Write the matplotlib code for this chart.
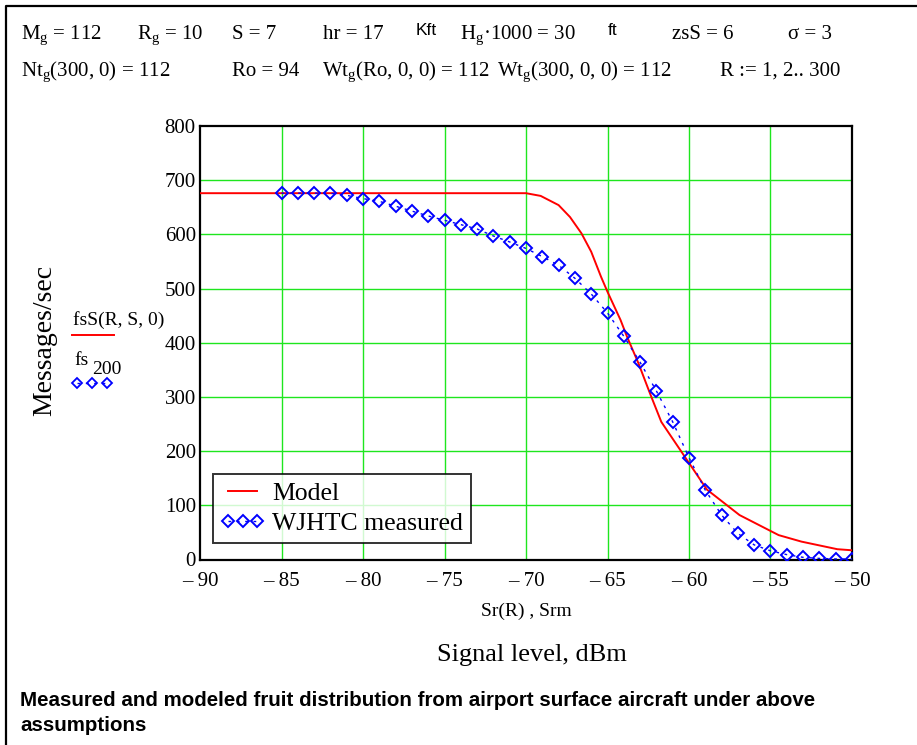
import numpy as np
import matplotlib.pyplot as plt
from matplotlib.lines import Line2D

plt.rcParams['font.family'] = 'Liberation Serif'
plt.rcParams['mathtext.fontset'] = 'custom'
plt.rcParams['mathtext.rm'] = 'Liberation Serif'
plt.rcParams['mathtext.it'] = 'Liberation Serif'

# model curve fsS(R, S, 0) vs signal level
model_dbm = [-90, -70, -69.1, -68.0, -67.3, -66.6, -66.0, -65.4, -65.0, -64.2,
             -63.8, -63.1, -62.4, -61.7, -58.9, -56.9, -54.5, -53.1, -50.9, -50]
model_rate = [676, 676, 671, 654, 632, 602, 568, 522, 494, 442,
              411, 362, 307, 254, 129, 82, 45, 33, 19, 17]

# WJHTC measured fruit rate, 1 dB steps
meas_dbm = list(range(-85, -49))
meas_rate = [676, 676, 676, 676, 672, 666, 661, 652, 643, 634,
             626, 618, 610, 597, 586, 574, 559, 543, 519, 490,
             455, 412, 364, 311, 254, 188, 128, 82, 48, 27,
             16, 9, 4, 2, 1, 1]

xticks = [-90, -85, -80, -75, -70, -65, -60, -55, -50]
yticks = [0, 100, 200, 300, 400, 500, 600, 700, 800]

W, H = 917, 745
fig = plt.figure(figsize=(W / 100, H / 100), dpi=100)
ax = fig.add_axes([200 / W, 1 - 559.5 / H, 652 / W, 433.5 / H])

grid_col = '#1ee61e'
for xv in xticks[1:-1]:
    ax.axvline(xv, color=grid_col, lw=1.0, zorder=1)
for yv in yticks[1:-1]:
    ax.axhline(yv, color=grid_col, lw=1.0, zorder=1)

meas_style = dict(color='#0000ff', lw=1.0, ls=(0, (2, 4)), marker='D', ms=6,
                  mfc='none', mec='#0000ff', mew=1.4)
ax.plot(model_dbm, model_rate, color='#ff0000', lw=1.4, zorder=3)
ax.plot(meas_dbm, meas_rate, zorder=4, **meas_style)

ax.set_xlim(-90, -50)
ax.set_ylim(0, 800)
ax.set_xticks(xticks)
ax.set_xticklabels(['\u2013 %d' % abs(v) for v in xticks])
ax.set_yticks(yticks)
ax.set_yticklabels([str(v) for v in yticks])
ax.tick_params(length=0, labelsize=15)
ax.tick_params(axis='x', pad=9)
ax.tick_params(axis='y', pad=3)
for s in ax.spines.values():
    s.set_linewidth(1.6)
    s.set_color('black')

leg_handles = [Line2D([], [], color='#ff0000', lw=1.4),
               Line2D([], [], **meas_style)]
leg = ax.legend(leg_handles, ['Model', 'WJHTC measured'], loc='lower left',
                bbox_to_anchor=(0.02, 0.038), fontsize=18.5, frameon=True,
                fancybox=False, handlelength=1.7, handletextpad=0.3,
                borderpad=0.3, labelspacing=0.3, numpoints=3,
                borderaxespad=0)
leg.get_frame().set_edgecolor('black')
leg.get_frame().set_linewidth(1.4)

def ft(x, y, s, **kw):
    fig.text(x / W, 1 - y / H, s, **kw)

# header definitions
hdr = dict(fontsize=15, va='baseline')
sub = r'$_{\mathrm{g}}$'
ft(21, 39, 'M' + sub + ' = 112', **hdr)
ft(137, 39, 'R' + sub + ' = 10', **hdr)
ft(232, 39, 'S = 7', **hdr)
ft(323, 39, 'hr = 17', **hdr)
ft(416, 35, 'Kft', fontsize=12.5, family='Liberation Sans', va='baseline')
ft(460, 39, 'H' + sub + '\u00b71000 = 30', **hdr)
ft(608, 35, 'ft', fontsize=12.5, family='Liberation Sans', va='baseline')
ft(672, 39, 'zsS = 6', **hdr)
ft(788, 39, '\u03c3 = 3', **hdr)
ft(21, 76, 'Nt' + sub + '(300, 0) = 112', **hdr)
ft(232, 76, 'Ro = 94', **hdr)
ft(322, 76, 'Wt' + sub + '(Ro, 0, 0) = 112', **hdr)
ft(497, 76, 'Wt' + sub + '(300, 0, 0) = 112', **hdr)
ft(720, 76, 'R := 1, 2.. 300', **hdr)

# axis labels and trace names
ft(45, 340, 'Messages/sec', fontsize=20, rotation=90, ha='center', va='center')
ft(73, 325, 'fsS(R, S, 0)', fontsize=14, va='baseline')
fig.add_artist(Line2D([72 / W, 114 / W], [1 - 335 / H] * 2, color='#ff0000', lw=1.4))
ft(74, 365, 'fs', fontsize=14, va='baseline')
ft(92, 374, '200', fontsize=14, va='baseline')
fig.add_artist(Line2D([77 / W, 92 / W, 107 / W], [1 - 383 / H] * 3, color='#0000ff',
                      lw=1.0, ls=(0, (2, 4)), marker='D', ms=5, mfc='none',
                      mec='#0000ff', mew=1.3))
ft(526, 611, 'Sr(R) , Srm', fontsize=14, ha='center', va='center')
ft(532, 655, 'Signal level, dBm', fontsize=19, ha='center', va='center')

cap = dict(fontsize=14.8, family='Liberation Sans', weight='bold', va='baseline')
ft(20, 706, 'Measured and modeled fruit distribution from airport surface aircraft under above', **cap)
ft(20, 731, 'assumptions', **cap)

# page frame
fig.add_artist(Line2D([6 / W, 6 / W, 1.0], [0.0, 1 - 6 / H, 1 - 6 / H], color='black', lw=1.6))

fig.savefig('out.png', dpi=100)
